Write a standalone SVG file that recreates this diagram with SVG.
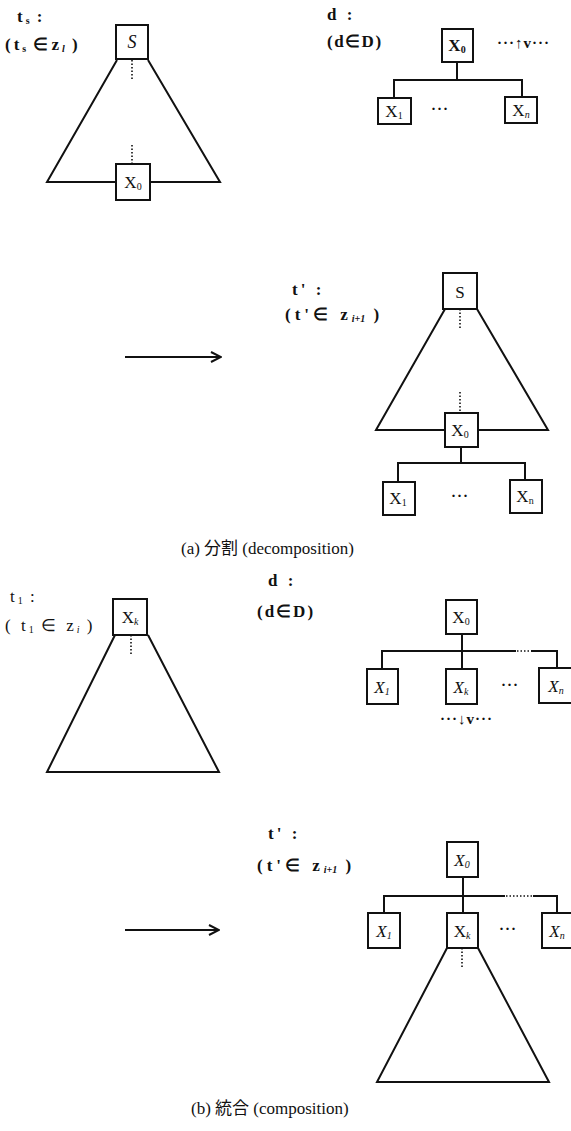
<svg xmlns="http://www.w3.org/2000/svg" width="571" height="1131" viewBox="0 0 571 1131">
<style>
.bg{fill:#fff}
.ln{fill:none;stroke:#111;stroke-width:2;stroke-linejoin:miter}
.box{fill:#fff;stroke:#111;stroke-width:2}
.dot{fill:none;stroke:#111;stroke-width:1.6;stroke-dasharray:1.5 2}
.lab{font-family:"Liberation Serif",serif;font-weight:bold;font-size:17px;fill:#111;letter-spacing:3px}
.labn{font-family:"Liberation Serif",serif;font-weight:normal;font-size:17px;fill:#111;letter-spacing:3px}
.dt{font-family:"Liberation Serif",serif;font-weight:bold;font-size:15px;fill:#111;letter-spacing:1px}
.bx{font-family:"Liberation Serif",serif;font-size:17px;fill:#111;text-anchor:middle}
.sub{font-size:10px;letter-spacing:0}
.cap{font-family:"Liberation Serif","Noto Sans CJK JP",serif;font-size:17px;fill:#111}
</style>
<defs>
<marker id="ah" viewBox="0 0 12 12" refX="11" refY="6" markerWidth="12" markerHeight="12" markerUnits="userSpaceOnUse" orient="auto">
<path d="M1,1 L11,6 L1,11" fill="none" stroke="#111" stroke-width="2"/>
</marker>
</defs>
<rect class="bg" x="0" y="0" width="571" height="1131"/>

<g id="connectors">
<path class="ln" d="M117,60 L47,182 L220,182 L148,60"/>
<path class="dot" d="M132,60 V80 M132,145 V164"/>
<path class="ln" d="M457,62 V80 M394,98 V80 H522 V97"/>
<path class="ln" d="M125,357 H221" marker-end="url(#ah)"/>
<path class="ln" d="M445,309 L376,430 L548,430 L477,309"/>
<path class="dot" d="M460,309 V330 M460,392 V413"/>
<path class="ln" d="M461,447 V463 M398,482 V463 H525 V480"/>
<path class="ln" d="M115,635 L47,772 L219,772 L148,635"/>
<path class="dot" d="M131,635 V656"/>
<path class="ln" d="M462,634 V669 M382,669 V651 H516 M531,651 H557 V668"/>
<path class="dot" d="M517,651 H531"/>
<path class="ln" d="M125,930 H219" marker-end="url(#ah)"/>
<path class="ln" d="M463,877 V913 M384,913 V896 H505 M533,896 H557 V913"/>
<path class="dot" d="M506,896 H533"/>
<path class="ln" d="M447,948 L377,1082 L549,1082 L478,948"/>
<path class="dot" d="M462,948 V968"/>
</g>

<g id="label-ts"><text class="lab" x="17" y="22">t<tspan class="sub" dy="2">s</tspan><tspan dy="-2">  :</tspan></text>
<text class="lab" x="5" y="50">(t<tspan class="sub" dy="2">s</tspan><tspan dy="-2"> ∈z</tspan><tspan class="sub" dy="2" font-style="italic">l</tspan><tspan dy="-2"> )</tspan></text></g>
<g id="node-a-S"><rect class="box" x="116" y="25" width="32" height="34"/><text class="bx" x="132" y="48" font-style="italic" style="font-size:18px">S</text></g>
<g id="node-a-X0"><rect class="box" x="116" y="164" width="34" height="36"/><text class="bx" x="133" y="188">X<tspan class="sub" dy="2">0</tspan></text></g>

<g id="label-d-a"><text class="lab" x="327" y="20">d   :</text><text class="lab" x="327" y="47" style="letter-spacing:1.5px">(d∈D)</text></g>
<g id="node-d-X0"><rect class="box" x="442" y="29" width="31" height="33"/><text class="bx" x="457" y="51" font-weight="bold">X<tspan class="sub" dy="2">0</tspan></text></g>
<g id="label-up"><text class="dt" x="497" y="48">···↑v···</text></g>
<g id="node-d-X1"><rect class="box" x="378" y="98" width="33" height="26"/><text class="bx" x="394" y="117">X<tspan class="sub" dy="2">1</tspan></text></g>
<g id="dots-a1"><text class="dt" x="440" y="114" text-anchor="middle">···</text></g>
<g id="node-d-Xn"><rect class="box" x="505" y="97" width="32" height="26"/><text class="bx" x="521" y="116">X<tspan class="sub" dy="2" font-style="italic">n</tspan></text></g>

<g id="label-tp-a"><text class="lab" x="292" y="295">t'   :</text>
<text class="lab" x="285" y="320" style="letter-spacing:4px">(t'∈ z<tspan class="sub" dy="2" font-style="italic">i+1</tspan><tspan dy="-2">   )</tspan></text></g>
<g id="node-ta-S"><rect class="box" x="443" y="273" width="34" height="36"/><text class="bx" x="460" y="298">S</text></g>
<g id="node-ta-X0"><rect class="box" x="445" y="413" width="33" height="34"/><text class="bx" x="460" y="436">X<tspan class="sub" dy="2">0</tspan></text></g>
<g id="node-ta-X1"><rect class="box" x="383" y="482" width="32" height="33"/><text class="bx" x="398" y="504">X<tspan class="sub" dy="2">1</tspan></text></g>
<g id="dots-a2"><text class="dt" x="460" y="501" text-anchor="middle">···</text></g>
<g id="node-ta-Xn"><rect class="box" x="510" y="480" width="32" height="33"/><text class="bx" x="525" y="502">X<tspan class="sub" dy="2">n</tspan></text></g>
<g id="caption-a"><text class="cap" x="181" y="554">(a)  分割 (decomposition)</text></g>

<g id="label-t1"><text class="labn" x="10" y="602">t<tspan class="sub" dy="2">1</tspan><tspan dy="-2">   :</tspan></text>
<text class="labn" x="5" y="631">( t<tspan class="sub" dy="2">1</tspan><tspan dy="-2"> ∈ z</tspan><tspan class="sub" dy="2" font-style="italic">i</tspan><tspan dy="-2">  )</tspan></text></g>
<g id="node-t1-Xk"><rect class="box" x="113" y="599" width="34" height="36"/><text class="bx" x="130" y="623">X<tspan class="sub" dy="2" font-style="italic">k</tspan></text></g>

<g id="label-d-b"><text class="lab" x="268" y="586">d   :</text><text class="lab" x="257" y="617" style="letter-spacing:2px">(d∈D)</text></g>
<g id="node-db-X0"><rect class="box" x="446" y="600" width="31" height="34"/><text class="bx" x="461" y="623">X<tspan class="sub" dy="2">0</tspan></text></g>
<g id="node-db-X1"><rect class="box" x="367" y="669" width="31" height="35"/><text class="bx" x="382" y="693" font-style="italic">X<tspan class="sub" dy="2">1</tspan></text></g>
<g id="node-db-Xk"><rect class="box" x="446" y="669" width="31" height="35"/><text class="bx" x="461" y="693" font-style="italic">X<tspan class="sub" dy="2">k</tspan></text></g>
<g id="dots-b1"><text class="dt" x="510" y="690" text-anchor="middle">···</text></g>
<g id="node-db-Xn"><rect class="box" x="539" y="668" width="33" height="35"/><text class="bx" x="556" y="692" font-style="italic">X<tspan class="sub" dy="2">n</tspan></text></g>
<g id="label-down"><text class="dt" x="440" y="724">···↓v···</text></g>

<g id="label-tp-b"><text class="lab" x="268" y="839">t'   :</text>
<text class="lab" x="257" y="871" style="letter-spacing:4px">(t'∈ z<tspan class="sub" dy="2" font-style="italic">i+1</tspan><tspan dy="-2">   )</tspan></text></g>
<g id="node-tb-X0"><rect class="box" x="447" y="842" width="31" height="35"/><text class="bx" x="462" y="866" font-style="italic">X<tspan class="sub" dy="2">0</tspan></text></g>
<g id="node-tb-X1"><rect class="box" x="368" y="913" width="32" height="35"/><text class="bx" x="384" y="937" font-style="italic">X<tspan class="sub" dy="2">1</tspan></text></g>
<g id="node-tb-Xk"><rect class="box" x="447" y="913" width="31" height="35"/><text class="bx" x="462" y="937">X<tspan class="sub" dy="2" font-style="italic">k</tspan></text></g>
<g id="dots-b2"><text class="dt" x="508" y="934" text-anchor="middle">···</text></g>
<g id="node-tb-Xn"><rect class="box" x="542" y="913" width="31" height="35"/><text class="bx" x="557" y="937" font-style="italic">X<tspan class="sub" dy="2">n</tspan></text></g>
<g id="caption-b"><text class="cap" x="191" y="1114">(b)  統合 (composition)</text></g>
</svg>
